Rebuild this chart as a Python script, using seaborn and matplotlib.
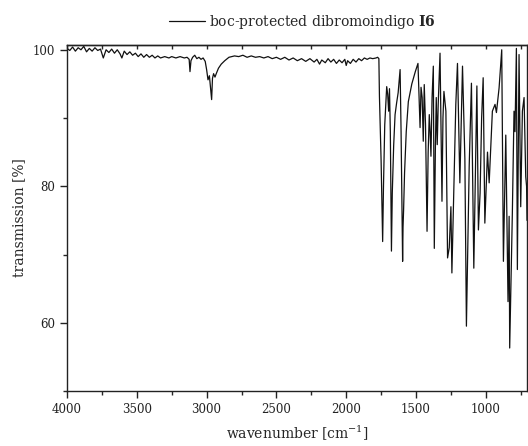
import matplotlib
matplotlib.use("Agg")
import matplotlib.pyplot as plt
from matplotlib.ticker import MultipleLocator
import seaborn as sns
import pandas as pd

# IR spectrum (wavenumber in cm^-1, transmission in %)
wavenumber_high = [
    4000, 3980, 3960, 3940, 3920, 3900, 3880, 3860, 3840, 3820, 3800, 3780,
    3760, 3740, 3720, 3700, 3680, 3660, 3640, 3620, 3607, 3590, 3570, 3550,
    3530, 3510, 3490, 3470, 3450, 3430, 3410, 3390, 3370, 3350, 3330, 3300,
    3270, 3250, 3220, 3190, 3160, 3140, 3125, 3119, 3112, 3100, 3085, 3070,
    3055, 3040, 3025, 3010, 3000, 2990, 2980, 2972, 2964, 2958, 2950, 2940,
    2929, 2915, 2895, 2870, 2840, 2800, 2770, 2740, 2710, 2680, 2650, 2620,
    2590, 2560, 2530, 2500, 2470, 2440, 2410, 2380, 2350, 2320, 2290, 2260,
    2230, 2210, 2191, 2175, 2150, 2130, 2110, 2090, 2070, 2050, 2030, 2010,
    2000, 1990, 1970, 1950, 1930, 1910, 1890, 1870, 1850, 1830, 1810, 1786,
    1775, 1766, 1762, 1750,
]
transmission_high = [
    100.2, 99.9, 100.4, 99.8, 100.3, 100.0, 100.5, 99.7, 100.2, 99.8, 100.3, 99.9,
    100.1, 98.8, 100.0, 99.6, 100.1, 99.5, 100.0, 99.4, 98.8, 99.8, 99.3, 99.7,
    99.2, 99.5, 99.0, 99.4, 98.9, 99.3, 98.9, 99.2, 98.8, 99.1, 98.8, 99.0,
    98.8, 99.0, 98.8, 99.0, 98.8, 98.9, 98.6, 96.8, 98.4, 98.9, 99.2, 98.7,
    98.9, 98.6, 98.8, 98.3, 97.1, 95.6, 96.2, 94.5, 92.7, 95.8, 96.5, 96.0,
    96.6, 97.3, 97.9, 98.4, 98.9, 99.1, 99.0, 99.2, 98.9, 99.1, 98.9, 99.0,
    98.8, 99.0, 98.7, 98.9, 98.6, 98.9, 98.5, 98.8, 98.4, 98.7, 98.3, 98.7,
    98.2, 98.6, 97.9, 98.5, 98.1, 98.7, 98.2, 98.6, 98.0, 98.5, 98.1, 98.6,
    97.7, 98.4, 98.0, 98.6, 98.2, 98.7, 98.4, 98.8, 98.6, 98.8, 98.7, 98.8,
    98.9, 98.7, 93.2, 83.7,
]

# fingerprint region
wavenumber_low = [
    1739, 1733, 1724, 1710, 1703, 1696, 1690, 1684, 1679, 1676, 1670, 1660,
    1650, 1639, 1628, 1614, 1607, 1601, 1596, 1593, 1589, 1582, 1570, 1555,
    1530, 1505, 1486, 1478, 1471, 1464, 1456, 1448, 1441, 1432, 1421, 1413,
    1405, 1399, 1393, 1385, 1376, 1369, 1361, 1355, 1348, 1341, 1328, 1314,
    1307, 1300, 1286, 1274, 1262, 1250, 1243, 1229, 1215, 1203, 1186, 1167,
    1150, 1139, 1119, 1103, 1086, 1064, 1053, 1041, 1030, 1019, 1007, 988,
    976, 953, 934, 924, 905, 886, 874, 857, 841, 833, 829, 810,
    798, 791, 781, 774, 762, 750, 738, 726, 714, 708, 705,
]
transmission_low = [
    71.9, 80.0, 89.0, 94.6, 93.5, 91.0, 94.3, 88.0, 78.0, 70.5, 79.0, 86.0,
    90.5, 92.2, 93.7, 97.1, 88.0, 77.0, 69.0, 74.0, 76.5, 82.0, 88.0, 92.4,
    95.0, 96.8, 98.0, 93.0, 88.6, 94.5, 93.0, 86.6, 94.9, 89.0, 73.4, 85.0,
    90.5, 88.0, 84.4, 93.0, 97.6, 70.9, 86.0, 93.0, 86.1, 92.0, 99.5, 77.8,
    90.0, 93.9, 91.0, 69.5, 71.0, 77.0, 67.3, 79.6, 92.0, 98.0, 80.5, 97.6,
    84.0, 59.5, 83.0, 95.1, 68.0, 94.7, 73.6, 79.0, 90.0, 95.9, 74.6, 85.0,
    80.5, 91.0, 92.0, 90.8, 94.4, 100.0, 69.0, 87.5, 63.1, 75.6, 56.3, 76.0,
    91.0, 88.0, 100.2, 67.8, 99.3, 77.0, 91.0, 93.0, 81.4, 80.0, 75.0,
]

LABEL = "boc-protected dibromoindigo $\\mathbf{I6}$"

spectrum = pd.DataFrame({
    "wavenumber": wavenumber_high + wavenumber_low,
    "transmission": transmission_high + transmission_low,
})

sns.set_style("ticks")
plt.rcParams["font.family"] = ["DejaVu Serif"]
plt.rcParams["mathtext.fontset"] = "custom"
plt.rcParams["mathtext.rm"] = "DejaVu Serif"
plt.rcParams["mathtext.bf"] = "DejaVu Serif:bold"

fig = plt.figure(figsize=(5.28, 4.46), dpi=100)
ax = fig.add_axes([67 / 528, 55 / 446, 460 / 528, 346 / 446])

sns.lineplot(data=spectrum, x="wavenumber", y="transmission", ax=ax,
             color="#111111", linewidth=0.9, estimator=None, sort=False,
             label=LABEL, legend=False)

ax.set_xlim(4000, 705)
ax.set_ylim(50, 100.7)
ax.xaxis.set_major_locator(MultipleLocator(500))
ax.xaxis.set_minor_locator(MultipleLocator(250))
ax.yaxis.set_major_locator(MultipleLocator(20))
ax.yaxis.set_minor_locator(MultipleLocator(10))
ax.tick_params(which="major", direction="out", length=5, width=1,
               labelsize=8.5, colors="#222222")
ax.tick_params(which="minor", direction="out", length=3, width=1)

top = ax.secondary_xaxis("top")
top.xaxis.set_major_locator(MultipleLocator(250))
top.tick_params(direction="in", length=3, width=1, labeltop=False)

for sp in ax.spines.values():
    sp.set_linewidth(1)
    sp.set_color("#222222")
top.spines["top"].set_linewidth(1)

ax.set_xlabel("wavenumber [cm$^{-1}$]", fontsize=10)
ax.set_ylabel("transmission [%]", fontsize=10)
ax.xaxis.set_label_coords(0.5, -0.096)
ax.yaxis.set_label_coords(-0.089, 0.5)

fig.legend(loc="center", bbox_to_anchor=(0.572, 0.951), frameon=False,
           fontsize=10, handlelength=2.6, handletextpad=0.3)

fig.savefig("out.png", dpi=100)
